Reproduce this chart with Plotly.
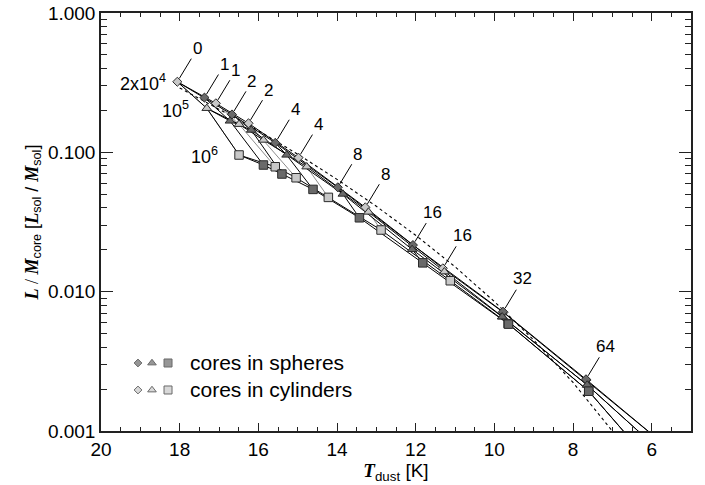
import numpy as np
import plotly.graph_objects as go

# Visual extinction A_V of each model core (128 lies beyond the lower axis limit)
extinction = [0, 1, 2, 4, 8, 16, 32, 64, 128]
density_labels = ["2x10<sup>4</sup>", "10<sup>5</sup>", "10<sup>6</sup>"]

# Cores in spheres: dust temperature [K] and L/M_core [L_sol/M_sol]
sph_2e4_T = [18.06, 17.37, 16.67, 15.57, 13.98, 12.07, 9.78, 7.67, 5.56]
sph_2e4_L = [0.321, 0.247, 0.187, 0.117, 0.0561, 0.0216, 0.00718, 0.00235, 0.00075]
sph_1e5_T = [17.31, 16.72, 16.18, 15.28, 13.85, 12.09, 9.80, 7.64, 5.53]
sph_1e5_L = [0.207, 0.168, 0.1445, 0.0957, 0.0502, 0.0201, 0.0066, 0.00214, 0.00062]
sph_1e6_T = [16.49, 15.87, 15.40, 14.61, 13.43, 11.82, 9.64, 7.60, 5.56]
sph_1e6_L = [0.0957, 0.0811, 0.0699, 0.0542, 0.0339, 0.0161, 0.00585, 0.00193, 0.00042]

# Cores in cylinders
cyl_2e4_T = [18.06, 17.08, 16.25, 14.98, 13.28, 11.31, 9.77, 7.66, 5.56]
cyl_2e4_L = [0.321, 0.2248, 0.1616, 0.0915, 0.0403, 0.0147, 0.0071, 0.00232, 0.00075]
cyl_1e5_T = [17.31, 16.49, 15.87, 14.77, 13.20, 11.27, 9.79, 7.64, 5.53]
cyl_1e5_L = [0.207, 0.159, 0.1225, 0.0788, 0.0373, 0.0139, 0.0066, 0.00214, 0.00062]
cyl_1e6_T = [16.49, 15.57, 15.04, 14.22, 12.88, 11.12, 9.65, 7.60, 5.56]
cyl_1e6_L = [0.0957, 0.0788, 0.0657, 0.0475, 0.0277, 0.01198, 0.0059, 0.00193, 0.00042]

# Optically thin reference relation (dotted)
ref_T = [18.0, 17.0, 16.0, 15.0, 14.0, 13.0, 12.0, 11.0, 10.0, 9.0, 8.0, 7.0]
ref_L = [0.290, 0.205, 0.143, 0.097, 0.064, 0.041, 0.0254, 0.0151, 0.0085, 0.0045, 0.00223, 0.0010]

SPH_FILL = "#6a6a6a"
CYL_FILL = "#c8c8c8"
EDGE = "#2b2b2b"
FONT = "Liberation Sans, Arial, Helvetica, sans-serif"
SERIF = "Liberation Serif, Times New Roman, serif"

spheres = [(sph_2e4_T, sph_2e4_L), (sph_1e5_T, sph_1e5_L), (sph_1e6_T, sph_1e6_L)]
cylinders = [(cyl_2e4_T, cyl_2e4_L), (cyl_1e5_T, cyl_1e5_L), (cyl_1e6_T, cyl_1e6_L)]
symbols = ["diamond", "triangle-up", "square"]
sizes = [7, 8.5, 8.5]

fig = go.Figure()

# Dotted reference curve
fig.add_trace(go.Scatter(x=ref_T, y=ref_L, mode="lines",
                         line=dict(color="black", width=1.1, dash="dot"),
                         hoverinfo="skip", showlegend=False))


def iso_extinction(series):
    xs, ys = [], []
    for k in range(len(extinction)):
        for T, L in series:
            xs.append(T[k])
            ys.append(L[k])
        xs.append(None)
        ys.append(None)
    return xs, ys


# Lines of constant extinction across densities
for series, col in [(cylinders, "#8c8c8c"), (spheres, "black")]:
    xs, ys = iso_extinction(series)
    fig.add_trace(go.Scatter(x=xs, y=ys, mode="lines",
                             line=dict(color=col, width=1),
                             hoverinfo="skip", showlegend=False))

# Lines of constant density
for series in (cylinders, spheres):
    for T, L in series:
        fig.add_trace(go.Scatter(x=T, y=L, mode="lines",
                                 line=dict(color="black", width=1),
                                 hoverinfo="skip", showlegend=False))

# Markers: cylinders first, spheres on top (the A_V = 0 core is shared)
for (T, L), sym, sz in zip(cylinders, symbols, sizes):
    fig.add_trace(go.Scatter(x=T, y=L, mode="markers",
                             marker=dict(symbol=sym, size=sz, color=CYL_FILL,
                                         line=dict(color=EDGE, width=1)),
                             showlegend=False))
for (T, L), sym, sz in zip(spheres, symbols, sizes):
    fig.add_trace(go.Scatter(x=T[1:], y=L[1:], mode="markers",
                             marker=dict(symbol=sym, size=sz, color=SPH_FILL,
                                         line=dict(color=EDGE, width=1)),
                             showlegend=False))

annotations = []

# Extinction labels with leader lines on the lowest-density cores
def av_label(T, L, text):
    annotations.append(dict(x=T, y=np.log10(L), xref="x", yref="y", text=text,
                            showarrow=True, arrowhead=0, arrowwidth=1,
                            arrowcolor="black", ax=20, ay=-33, standoff=4,
                            font=dict(family=FONT, size=17, color="black")))

av_label(sph_2e4_T[0], sph_2e4_L[0], str(extinction[0]))
for k in range(1, 8):
    av_label(sph_2e4_T[k], sph_2e4_L[k], str(extinction[k]))
for k in range(1, 6):
    av_label(cyl_2e4_T[k], cyl_2e4_L[k], str(extinction[k]))

# Density labels beside the A_V = 0 cores
for (T, L), text, dx in zip(spheres, density_labels, [-9, -16, -19]):
    annotations.append(dict(x=T[0], y=np.log10(L[0]), xref="x", yref="y",
                            text=text, showarrow=False, xanchor="right",
                            xshift=dx, yshift=-1,
                            font=dict(family=FONT, size=18, color="black")))

# Legend
leg_rows = [(0.1627, SPH_FILL, "cores in spheres"), (0.0981, CYL_FILL, "cores in cylinders")]
leg_x = [0.0627, 0.0864, 0.1136]
leg_sizes = [6, 7.5, 8]
for yy, fill, text in leg_rows:
    fig.add_trace(go.Scatter(x=leg_x, y=[yy] * 3, xaxis="x2", yaxis="y2",
                             mode="markers",
                             marker=dict(symbol=symbols, size=leg_sizes, color=fill,
                                         line=dict(color=EDGE, width=1)),
                             hoverinfo="skip", showlegend=False))
    annotations.append(dict(x=0.1475, y=yy, xref="paper", yref="paper", text=text,
                            showarrow=False, xanchor="left", yanchor="middle",
                            font=dict(family=FONT, size=21, color="black")))

minor_y = [m * 10.0 ** e for e in (-3, -2, -1) for m in range(2, 10)]

x_title = (f"<span style=\"font-family:{SERIF}\"><b><i>T</i></b></span>"
           "<sub>dust</sub> [K]")
y_title = (f"<span style=\"font-family:{SERIF}\"><b><i>L</i></b> / <b><i>M</i></b></span>"
           "<sub>core</sub> ["
           f"<span style=\"font-family:{SERIF}\"><b><i>L</i></b></span><sub>sol</sub> / "
           f"<span style=\"font-family:{SERIF}\"><b><i>M</i></b></span><sub>sol</sub>]")

axis_common = dict(showgrid=False, zeroline=False, showline=True, linecolor="#222222",
                   linewidth=1.5, mirror="ticks", ticks="inside", tickcolor="#222222",
                   tickwidth=1, automargin=False,
                   tickfont=dict(family=FONT, size=19, color="black"))

fig.update_layout(
    width=705, height=485,
    margin=dict(l=101, r=14, t=13, b=54),
    paper_bgcolor="white", plot_bgcolor="white",
    showlegend=False,
    xaxis=dict(range=[20, 5], tickmode="linear", tick0=0, dtick=2, ticklen=8,
               minor=dict(ticks="inside", dtick=0.5, tick0=0, ticklen=4,
                          tickcolor="#222222", tickwidth=1),
               title=dict(text=x_title, font=dict(family=FONT, size=19, color="black"),
                          standoff=2),
               **axis_common),
    yaxis=dict(type="log", range=[-3, 0], tickmode="array",
               tickvals=[0.001, 0.01, 0.1, 1.0],
               ticktext=["0.001", "0.010", "0.100", "1.000"], ticklen=12,
               minor=dict(ticks="inside", tickmode="array", tickvals=minor_y, ticklen=6,
                          tickcolor="#222222", tickwidth=1),
               title=dict(text=y_title, font=dict(family=FONT, size=18, color="black"),
                          standoff=5),
               **axis_common),
    xaxis2=dict(overlaying="x", range=[0, 1], visible=False),
    yaxis2=dict(overlaying="y", range=[0, 1], visible=False),
    annotations=annotations,
)

fig.write_html("out.html")
